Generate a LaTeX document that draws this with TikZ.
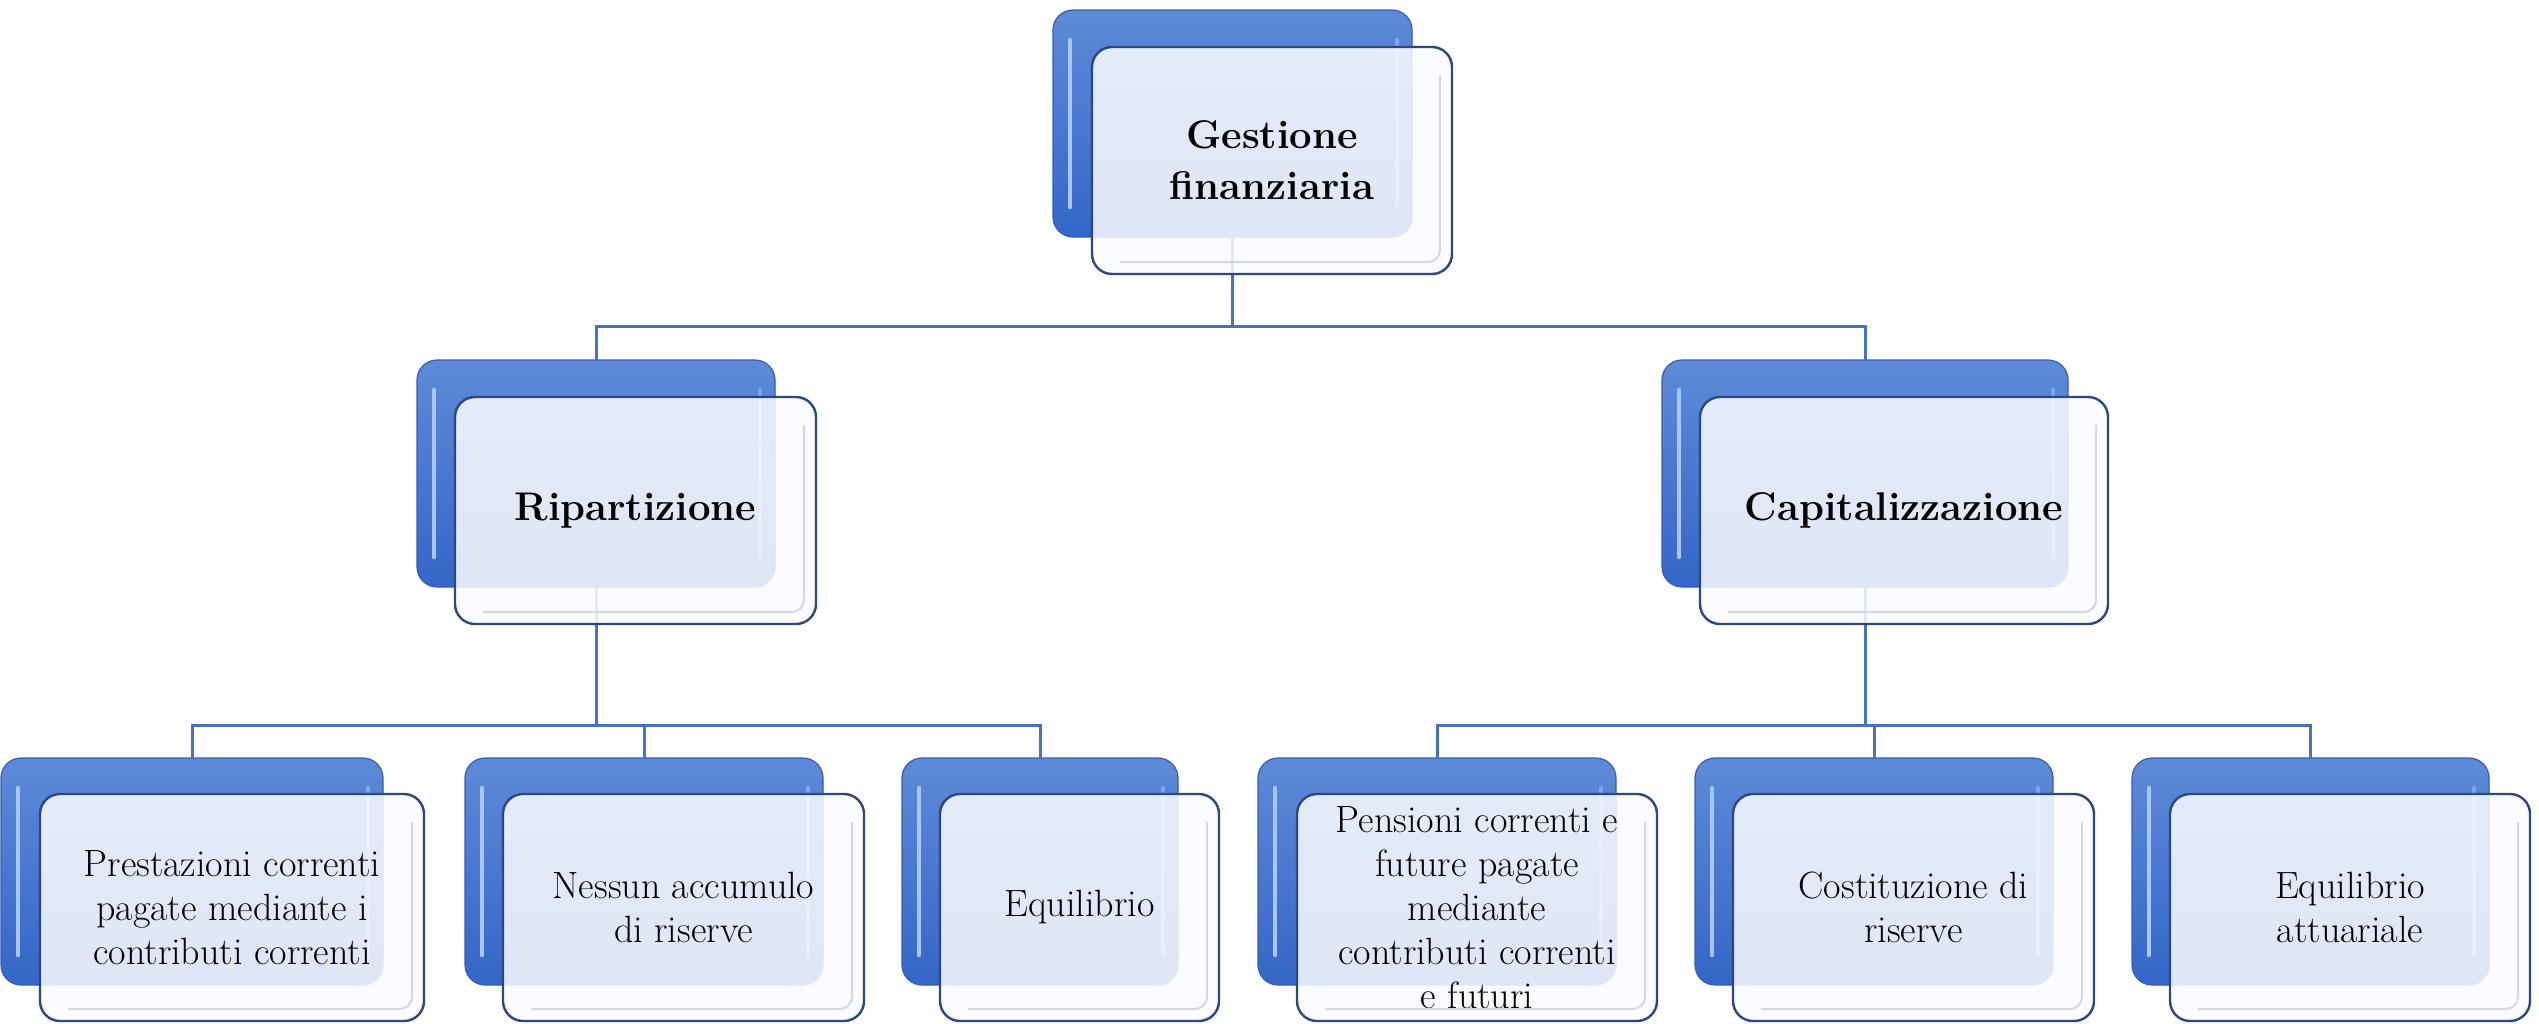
\documentclass[tikz,border=0pt]{standalone}
\usepackage{fontspec}
\usetikzlibrary{calc}
\definecolor{connc}{HTML}{4472C4}
\definecolor{backtop}{HTML}{5F8AD8}
\definecolor{backbot}{HTML}{3466C8}
\definecolor{backedge}{HTML}{355EB2}
\definecolor{frontedge}{HTML}{2B4880}
\definecolor{frontfill}{HTML}{FBFCFF}
\definecolor{stripc}{HTML}{A9C7F5}
\definecolor{rimc}{HTML}{D3D8E0}
\tikzset{
 backbox/.style={rectangle, rounded corners=20pt, draw=backedge, line width=1.2pt,
   top color=backtop, bottom color=backbot, minimum height=227pt, inner sep=0pt, outer sep=0pt},
 frontbox/.style={rectangle, rounded corners=20pt, draw=frontedge, line width=2.4pt,
   fill=frontfill, fill opacity=0.86, text opacity=1, draw opacity=1,
   minimum height=227pt, inner sep=0pt, outer sep=0pt, align=center, text=black},
 conn/.style={draw=connc, line width=3pt},
 hlstrip/.style={draw=stripc, line width=4.5pt, line cap=round},
 rim/.style={draw=rimc, line width=2pt, rounded corners=12pt},
 boldtxt/.style={font=\fontsize{40}{51}\selectfont\bfseries},
 normtxt/.style={font=\fontsize{38}{44}\selectfont},
}
\newcommand\SAback[4]{%
 \node[backbox, minimum width=#4pt, anchor=north west] (#1-b) at (#2,#3) {};
 \draw[hlstrip] ([xshift=17pt,yshift=-30pt]#1-b.north west) -- ([xshift=17pt,yshift=30pt]#1-b.south west);
 \draw[hlstrip, draw opacity=0.5] ([xshift=-15pt,yshift=-30pt]#1-b.north east) -- ([xshift=-15pt,yshift=30pt]#1-b.south east);
}
\newcommand\SAfront[6]{%
 \node[frontbox, #5, minimum width=#4pt, anchor=north west] (#1) at (#2,#3) {#6};
 \draw[rim] ([shift={(-12pt,-28pt)}]#1.north east) -- ([shift={(-12pt,12pt)}]#1.south east) -- ([shift={(28pt,12pt)}]#1.south west);
}
\begin{document}
\begin{tikzpicture}[x=1pt,y=-1pt]
\fill[white] (0,0) rectangle (2539,1023);
\useasboundingbox (0,0) rectangle (2539,1023);

% back boxes
\SAback{top}{1053}{10}{359}
\SAback{rip}{417}{360}{358}
\SAback{cap}{1662}{360}{406}
\SAback{b1}{1}{758}{382}
\SAback{b2}{465}{758}{358}
\SAback{b3}{902}{758}{276}
\SAback{b4}{1258}{758}{358}
\SAback{b5}{1695}{758}{358}
\SAback{b6}{2132}{758}{357}

% connectors
\coordinate (j0) at (1232.5,326);
\coordinate (j1) at (596,725);
\coordinate (j2) at (1865,725);
\draw[conn] (top-b.south) -- (j0);
\draw[conn] (rip-b.north) |- (j0) -| (cap-b.north);
\draw[conn] (rip-b.south) -- (j1);
\draw[conn] (b1-b.north) |- (j1) -| (b3-b.north);
\draw[conn] (b2-b.north) -- (b2-b.north |- j1);
\draw[conn] (cap-b.south) -- (j2);
\draw[conn] (b4-b.north) |- (j2) -| (b6-b.north);
\draw[conn] (b5-b.north) -- (b5-b.north |- j2);

% front boxes
\SAfront{top}{1092}{47}{360}{boldtxt}{Gestione\\finanziaria}
\SAfront{rip}{455}{397}{361}{boldtxt}{Ripartizione}
\SAfront{cap}{1700}{397}{408}{boldtxt}{Capitalizzazione}
\SAfront{b1}{40}{794}{384}{normtxt}{Prestazioni correnti\\pagate mediante i\\contributi correnti}
\SAfront{b2}{503}{794}{361}{normtxt}{Nessun accumulo\\di riserve}
\SAfront{b3}{940}{794}{279}{normtxt}{Equilibrio}
\SAfront{b4}{1297}{794}{360}{normtxt}{Pensioni correnti e\\future pagate\\mediante\\contributi correnti\\e futuri}
\SAfront{b5}{1733}{794}{361}{normtxt}{Costituzione di\\riserve}
\SAfront{b6}{2170}{794}{360}{normtxt}{Equilibrio\\attuariale}
\end{tikzpicture}
\end{document}
